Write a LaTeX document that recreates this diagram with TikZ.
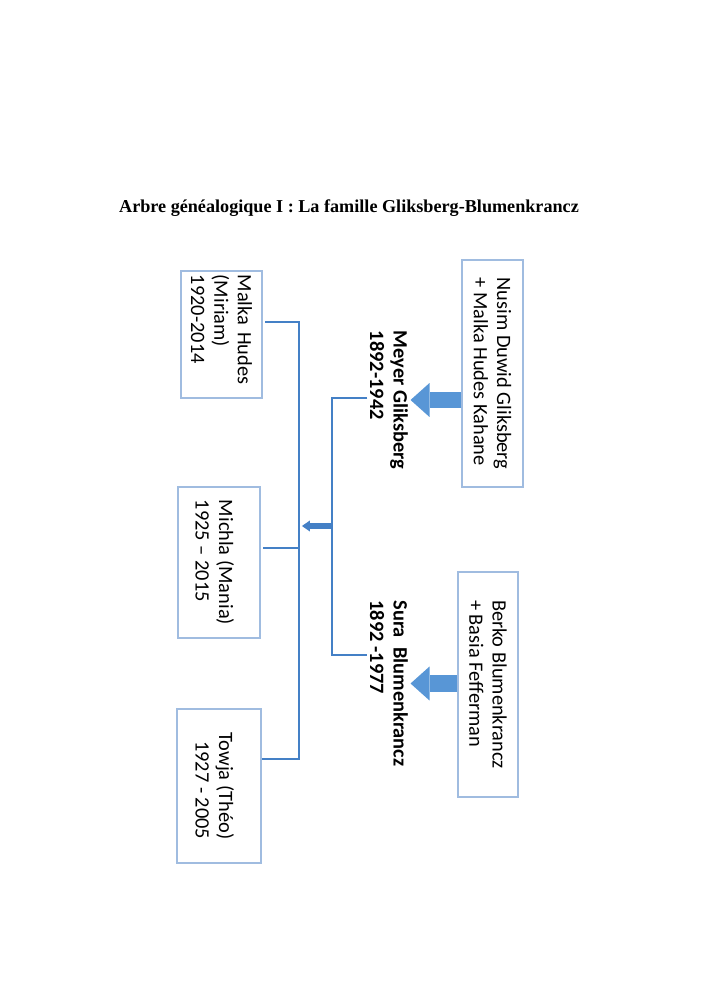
\documentclass[tikz,border=0pt]{standalone}
\usepackage{fontspec}
\setmainfont{Carlito}
\newfontfamily\titlefont{Liberation Serif}
\usetikzlibrary{arrows.meta}

\definecolor{linkblue}{RGB}{68,128,198}
\definecolor{arrowblue}{RGB}{88,150,214}
\definecolor{boxblue}{RGB}{160,188,224}

\begin{document}
\begin{tikzpicture}[x=0.03cm,y=-0.03cm,
    person/.style={draw=boxblue, line width=1.2pt, rotate=-90, align=left,
        inner sep=0pt, font=\fontsize{17.4}{20}\selectfont},
    couple/.style={rotate=-90, align=left, inner sep=2pt,
        font=\fontsize{17.4}{20}\selectfont\bfseries},
    link/.style={draw=linkblue, line width=1.7pt},
    parentarrow/.style={draw=arrowblue, line width=14.5pt,
        -{Triangle[length=16.2pt, width=29pt, line width=0pt]}},
    kidarrow/.style={draw=linkblue, line width=4.3pt,
        -{Triangle[length=6.8pt, width=9.4pt, line width=0pt]}}
]
    \useasboundingbox (0,0) rectangle (700,992);

    \node[anchor=base, font=\titlefont\bfseries\fontsize{15.5}{18}\selectfont] (title)
        at (349,213) {Arbre généalogique I : La famille Gliksberg-Blumenkrancz};

    % grands-parents
    \node[person, minimum width=193.8pt, minimum height=52.1pt] (nusim) at (492.5,373.5)
        {Nusim Duwid Gliksberg\\+ Malka Hudes Kahane};
    \node[person, minimum width=192pt, minimum height=51.2pt] (berko) at (488,684.5)
        {Berko Blumenkrancz\\+ Basia Fefferman};

    % parents
    \node[couple] (meyer) at (389,400) {Meyer Gliksberg\\1892-1942};
    \node[couple] (sura) at (389,683.5) {Sura\ \ Blumenkrancz\\1892 -1977};

    % enfants
    \node[person, text width=102pt, inner xsep=3.2pt, minimum height=69.1pt] (malka) at (221.5,334.5)
        {Malka Hudes\\(Miriam)\\1920-2014};
    \node[person, minimum width=128.9pt, minimum height=70pt] (michla) at (219,562.5)
        {\mbox{}\\Michla (Mania)\\1925 -- 2015};
    \node[person, minimum width=131.5pt, minimum height=71.7pt, align=right] (towja) at (219,786)
        {\mbox{}\\Towja (Théo)\\1927 - 2005};

    \draw[parentarrow] (meyer.center -| nusim.south) -- (meyer.north);
    \draw[parentarrow] (sura.center -| berko.south) -- (sura.north);

    \coordinate (mtop) at (332,398);
    \coordinate (mbot) at (332,655);
    \draw[link] (mtop -| meyer.south) -- (mtop) -- (mbot) -- (mbot -| sura.south);

    \coordinate (ktop) at (299,322);
    \coordinate (kmid) at (299,548);
    \coordinate (kbot) at (299,759);
    \draw[link, shorten <=2pt] (ktop -| malka.north) -- (ktop) -- (kbot) -- (kbot -| towja.north);
    \draw[link, shorten <=2pt] (kmid -| michla.north) -- (kmid);

    \coordinate (cpl) at (332,526);
    \draw[kidarrow, shorten >=2.5pt] (cpl) -- (cpl -| ktop);
\end{tikzpicture}
\end{document}
